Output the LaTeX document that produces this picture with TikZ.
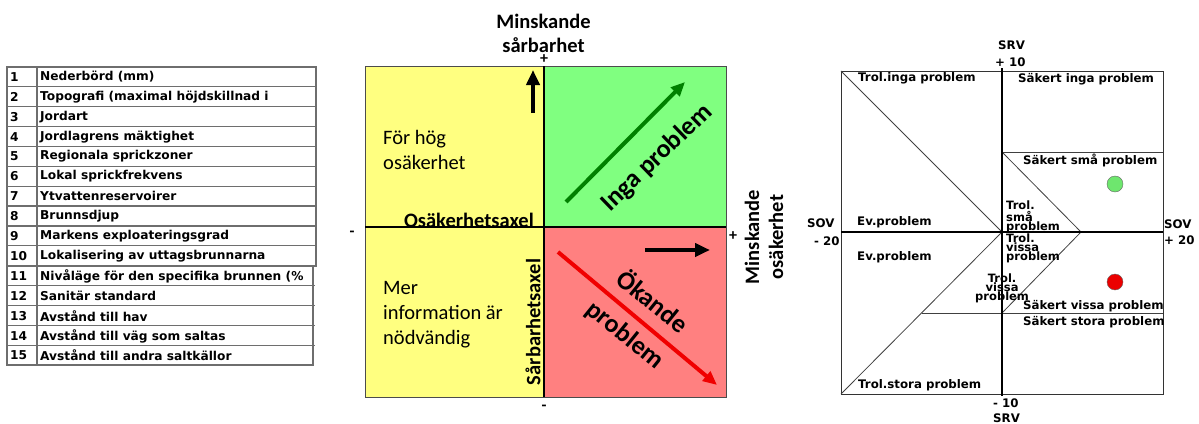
\documentclass[tikz,border=0pt]{standalone}
\usepackage{fontspec}
\usepackage{tikz}
\usetikzlibrary{arrows.meta}

\newfontfamily\calibfont{Carlito}
\newfontfamily\sansfont{DejaVu Sans}

\definecolor{quadyellow}{RGB}{255,255,128}
\definecolor{quadgreen}{RGB}{128,255,128}
\definecolor{quadred}{RGB}{255,128,128}
\definecolor{arrowgreen}{RGB}{0,128,0}
\definecolor{arrowred}{RGB}{240,0,0}
\definecolor{tabgray}{RGB}{110,110,110}
\definecolor{dotgreen}{RGB}{110,230,110}
\definecolor{dotred}{RGB}{235,0,0}

\tikzset{
  tabtxt/.style={anchor=west, inner sep=0pt, font=\sansfont\bfseries\fontsize{12.2}{13}\selectfont},
  diatxt/.style={anchor=west, inner sep=0pt, font=\sansfont\bfseries\fontsize{11.8}{13}\selectfont},
  stacktxt/.style={anchor=west, align=left, inner sep=0pt, font=\sansfont\bfseries\fontsize{11.5}{9}\selectfont},
  quadtxt/.style={anchor=west, align=left, inner sep=0pt, font=\calibfont\fontsize{20.5}{25}\selectfont},
  boldtxt/.style={align=center, inner sep=0pt, font=\calibfont\bfseries\fontsize{20.5}{24}\selectfont},
  bigtxt/.style={align=center, inner sep=0pt, font=\calibfont\bfseries\fontsize{26}{42}\selectfont},
  signtxt/.style={inner sep=0pt, font=\calibfont\bfseries\fontsize{16}{16}\selectfont},
  blackarrow/.style={line width=4.5pt, -{Triangle[length=15pt,width=13pt]}},
  colarrow/.style={line width=4pt, -{Triangle[length=14pt,width=12pt]}},
  thinline/.style={draw=black!75, line width=0.8pt},
  axisline/.style={line width=2.6pt},
}

\begin{document}
\begin{tikzpicture}[x=1pt,y=-1pt]
    \useasboundingbox (0,0) rectangle (1199,423);

    % Parameter table
    \draw[tabgray, line width=1.2pt] (7,67) rectangle (316,266);
    \draw[tabgray, line width=1.2pt] (7,266) rectangle (313,365);
    \draw[tabgray, line width=1.2pt] (37,67) -- (37,365);
    \foreach \r in {1,...,14}
        \draw[tabgray, line width=1.2pt] (7,67+19.87*\r) -- (315,67+19.87*\r);
    \begin{scope}
        \clip (7,60) rectangle (312,370);
        \node[tabtxt] (n1) at (10,77) {1};
        \node[tabtxt] (p1) at (40,77) {Nederbörd (mm)};
        \node[tabtxt] (n2) at (10,97) {2};
        \node[tabtxt] (p2) at (40,97) {Topografi (maximal höjdskillnad i};
        \node[tabtxt] (n3) at (10,117) {3};
        \node[tabtxt] (p3) at (40,117) {Jordart};
        \node[tabtxt] (n4) at (10,137) {4};
        \node[tabtxt] (p4) at (40,137) {Jordlagrens mäktighet};
        \node[tabtxt] (n5) at (10,156) {5};
        \node[tabtxt] (p5) at (40,156) {Regionala sprickzoner};
        \node[tabtxt] (n6) at (10,176) {6};
        \node[tabtxt] (p6) at (40,176) {Lokal sprickfrekvens};
        \node[tabtxt] (n7) at (10,196) {7};
        \node[tabtxt] (p7) at (40,196) {Ytvattenreservoirer};
        \node[tabtxt] (n8) at (10,216) {8};
        \node[tabtxt] (p8) at (40,216) {Brunnsdjup};
        \node[tabtxt] (n9) at (10,236) {9};
        \node[tabtxt] (p9) at (40,236) {Markens exploateringsgrad};
        \node[tabtxt] (n10) at (10,256) {10};
        \node[tabtxt] (p10) at (40,256) {Lokalisering av uttagsbrunnarna};
        \node[tabtxt] (n11) at (10,276) {11};
        \node[tabtxt] (p11) at (40,276) {Nivåläge för den specifika brunnen (\%};
        \node[tabtxt] (n12) at (10,296) {12};
        \node[tabtxt] (p12) at (40,296) {Sanitär standard};
        \node[tabtxt] (n13) at (10,316) {13};
        \node[tabtxt] (p13) at (40,316) {Avstånd till hav};
        \node[tabtxt] (n14) at (10,336) {14};
        \node[tabtxt] (p14) at (40,336) {Avstånd till väg som saltas};
        \node[tabtxt] (n15) at (10,355) {15};
        \node[tabtxt] (p15) at (40,355) {Avstånd till andra saltkällor};
    \end{scope}

    % Quadrant chart
    \fill[quadyellow] (365,66) rectangle (544,397);
    \fill[quadgreen] (544,66) rectangle (726,227);
    \fill[quadred] (544,227) rectangle (726,397);
    \draw[black!70, line width=1pt] (365,66) rectangle (726,397);
    \draw[axisline] (365,227) -- (726,227);
    \draw[axisline] (544,66) -- (544,397);

    \node[boldtxt] (sarb) at (543.5,33) {Minskande\\sårbarhet};
    \node[boldtxt, rotate=90] (osak) at (764,237) {Minskande\\osäkerhet};
    \node[signtxt] (topplus) at (544,59) {+};
    \node[signtxt] (rightplus) at (733,236) {+};
    \node[signtxt] (leftminus) at (352,234) {-};
    \node[signtxt] (botminus) at (544,408) {-};

    \node[quadtxt] (forhog) at (383,150) {För hög\\osäkerhet};
    \node[quadtxt] (merinfo) at (383,315) {Mer\\information är\\nödvändig};
    \node[boldtxt, anchor=east] (osaxel) at (534,220) {Osäkerhetsaxel};
    \node[boldtxt, rotate=90] (saxel) at (533,322) {Sårbarhetsaxel};

    \draw[blackarrow] (533,113) -- (533,70);
    \draw[blackarrow] (645,250) -- (710,250);
    \draw[colarrow, arrowgreen] (566,202) -- (685,82);
    \draw[colarrow, arrowred] (558,252) -- (717,385);
    \node[bigtxt, rotate=44] (inga) at (657,158) {Inga problem};
    \node[bigtxt, rotate=-39] (okande) at (639,318) {Ökande\\problem};

    % Risk diagram
    \draw[black!80, line width=1pt] (841,71) rectangle (1163,394);
    \draw[thinline] (841,71) -- (1002,232);
    \draw[thinline] (841,394) -- (1002,232);
    \draw[thinline] (1002,152) -- (1163,152);
    \draw[thinline] (1002,152) -- (1081,232) -- (1002,313);
    \draw[thinline] (922,313) -- (1163,313);
    \draw[axisline] (841,232) -- (1163,232);
    \draw[axisline] (1002,68) -- (1002,396);

    \node[diatxt] (srvtop) at (998,45) {SRV};
    \node[diatxt] (srvplus) at (995,62) {+ 10};
    \node[diatxt] (srvminus) at (993,403) {- 10};
    \node[diatxt] (srvbot) at (993,418) {SRV};
    \node[diatxt] (sovleft) at (807,223) {SOV};
    \node[diatxt] (sovlminus) at (814,241) {- 20};
    \node[diatxt] (sovright) at (1164,224) {SOV};
    \node[diatxt] (sovrplus) at (1164,240) {+ 20};

    \node[diatxt] (trolinga) at (858,78) {Trol.inga problem};
    \node[diatxt] (sakinga) at (1018,79) {Säkert inga problem};
    \node[diatxt] (sakma) at (1023,160) {Säkert små problem};
    \node[diatxt] (evup) at (857,222) {Ev.problem};
    \node[diatxt] (evdown) at (857,257) {Ev.problem};
    \node[stacktxt] (trolsma) at (1006,217) {Trol.\\små\\problem};
    \node[stacktxt] (trolvissa) at (1006,248) {Trol.\\vissa\\problem};
    \node[stacktxt, align=center] (trolvissb) at (975,288) {Trol.\\vissa\\problem};
    \node[diatxt] (sakvissa) at (1023,306) {Säkert vissa problem};
    \node[diatxt] (sakstora) at (1023,322) {Säkert stora problem};
    \node[diatxt] (trolstora) at (858,385) {Trol.stora problem};

    \draw[black!60, fill=dotgreen] (1115,184) circle (8);
    \draw[black!60, fill=dotred] (1115,282) circle (8);
\end{tikzpicture}
\end{document}
